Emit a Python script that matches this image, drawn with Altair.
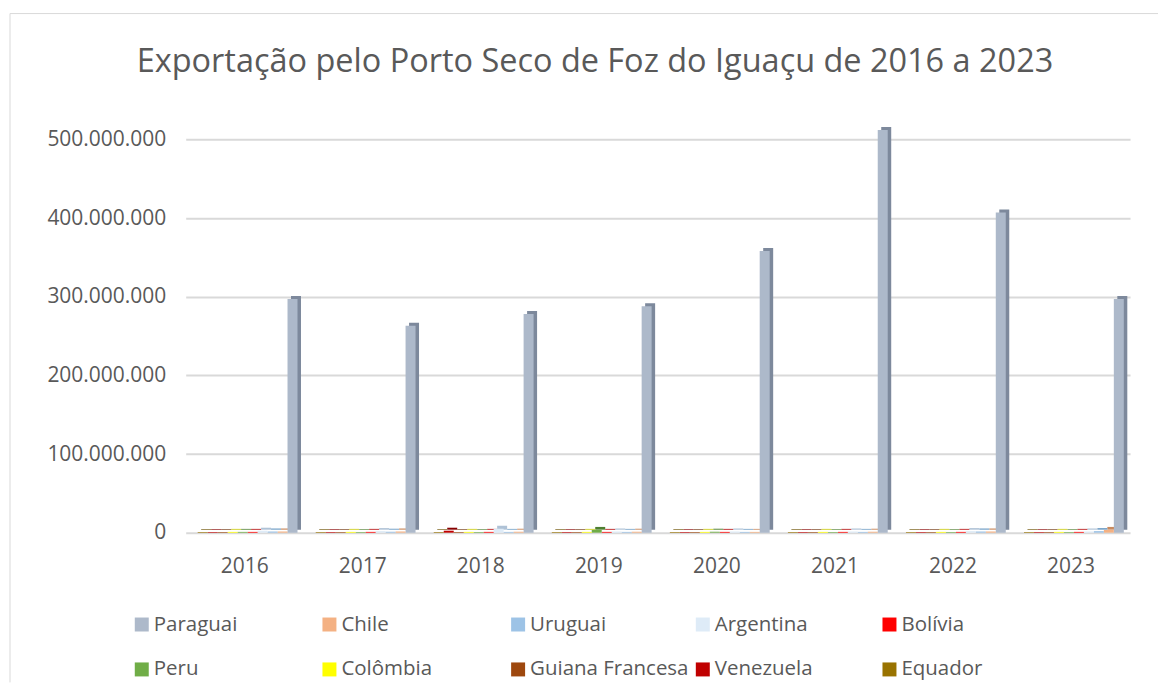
import altair as alt
import pandas as pd

TITLE = "Exportação pelo Porto Seco de Foz do Iguaçu de 2016 a 2023"
YEARS = ["2016", "2017", "2018", "2019", "2020", "2021", "2022", "2023"]
COUNTRIES = ["Paraguai", "Chile", "Uruguai", "Argentina", "Bolívia",
             "Peru", "Colômbia", "Guiana Francesa", "Venezuela", "Equador"]

PARAGUAI = [297e6, 263e6, 278e6, 288e6, 358e6, 512e6, 407e6, 297e6]
CHILE = [1.5e6, 1.5e6, 1.2e6, 1.2e6, 1.0e6, 1.2e6, 1.5e6, 3.5e6]
URUGUAI = [1.5e6, 1.2e6, 1.0e6, 1.0e6, 1.0e6, 1.0e6, 1.5e6, 2.0e6]
ARGENTINA = [2.5e6, 2.0e6, 5.0e6, 1.5e6, 1.5e6, 1.5e6, 2.0e6, 1.5e6]
BOLIVIA = [1.0e6, 1.0e6, 1.0e6, 1.0e6, 1.0e6, 1.0e6, 1.0e6, 1.0e6]
PERU = [1.0e6, 0.8e6, 0.8e6, 3.5e6, 1.2e6, 0.8e6, 0.8e6, 0.8e6]
COLOMBIA = [1.0e6, 1.0e6, 1.0e6, 1.0e6, 1.0e6, 1.0e6, 1.0e6, 1.0e6]
GUIANA = [0.8e6, 0.8e6, 0.8e6, 0.8e6, 0.8e6, 0.8e6, 0.8e6, 0.8e6]
VENEZUELA = [0.8e6, 0.8e6, 2.5e6, 0.8e6, 0.8e6, 0.8e6, 0.8e6, 0.8e6]
EQUADOR = [0.8e6, 0.8e6, 0.8e6, 0.8e6, 0.8e6, 0.8e6, 0.8e6, 0.8e6]
SERIES = [PARAGUAI, CHILE, URUGUAI, ARGENTINA, BOLIVIA, PERU, COLOMBIA,
          GUIANA, VENEZUELA, EQUADOR]
Y_TICKS = [0, 100e6, 200e6, 300e6, 400e6, 500e6]

# styles
COLORS = ["#ADB9CA", "#F4B183", "#9DC3E6", "#DEEBF7", "#FF0000",
          "#70AD47", "#FFFF00", "#9E480E", "#C00000", "#997300"]
SIDE_COLORS = ["#7D899C", "#C98A5E", "#6E9CC4", "#AFC2D6", "#B00000",
               "#4E7F30", "#C8C800", "#6E3209", "#860000", "#6B5000"]
TXT = "#595959"
FONT = "Open Sans"

rows = []
for c, side, vals in zip(COUNTRIES, SIDE_COLORS, SERIES):
    for y, v in zip(YEARS, vals):
        rows.append({"year": y, "country": c, "value": v, "side": side})
df = pd.DataFrame(rows)

legend_df = pd.DataFrame({
    "country": COUNTRIES,
    "col": [i % 5 for i in range(len(COUNTRIES))],
    "row": [i // 5 for i in range(len(COUNTRIES))],
})

GROUP_ORDER = COUNTRIES[::-1]
color_scale = alt.Scale(domain=COUNTRIES, range=COLORS)
x_scale = alt.Scale(paddingInner=0, paddingOuter=0)
y_scale = alt.Scale(domain=[0, 500e6], nice=False)

side = alt.Chart(df).mark_bar(yOffset=-3).encode(
    x=alt.X("year:N", scale=x_scale, axis=None),
    xOffset=alt.XOffset("country:N", sort=GROUP_ORDER,
                        scale=alt.Scale(range=[15.5, 115.5], paddingInner=0, paddingOuter=0)),
    y=alt.Y("value:Q", scale=y_scale, axis=None),
    color=alt.Color("side:N", scale=None, legend=None),
)

front = alt.Chart(df).mark_bar().encode(
    x=alt.X("year:N", scale=x_scale,
            axis=alt.Axis(title=None, labelAngle=0, labelFontSize=21, labelColor=TXT,
                          labelFont=FONT, domain=False, ticks=False, labelPadding=23)),
    xOffset=alt.XOffset("country:N", sort=GROUP_ORDER,
                        scale=alt.Scale(range=[12, 112], paddingInner=0, paddingOuter=0)),
    y=alt.Y("value:Q", scale=y_scale,
            axis=alt.Axis(title=None, values=Y_TICKS,
                          labelExpr="replace(format(datum.value, ',.0f'), regexp(',', 'g'), '.')",
                          grid=True, gridColor="#D9D9D9", gridWidth=2, domain=False,
                          ticks=False, labelPadding=20, labelFontSize=21,
                          labelColor=TXT, labelFont=FONT)),
    color=alt.Color("country:N", scale=color_scale, legend=None),
)

one = alt.Data(values=[{}])
border_left = alt.Chart(one).mark_rule(color="#D9D9D9", strokeWidth=1).encode(
    x=alt.value(-176), y=alt.value(-126), y2=alt.value(544))
border_top = alt.Chart(one).mark_rule(color="#D9D9D9", strokeWidth=1).encode(
    x=alt.value(-176), x2=alt.value(974), y=alt.value(-126))
title = alt.Chart(one).mark_text(text=TITLE, fontSize=32.5, color=TXT, font=FONT,
                                 align="center", baseline="middle").encode(
    x=alt.value(410), y=alt.value(-77))

lx = alt.X("col:Q", scale=alt.Scale(domain=[0, 1, 2, 3, 4], range=[-44, 144, 333, 518, 705],
                                    zero=False, nice=False), axis=None)
ly = alt.Y("row:Q", scale=alt.Scale(domain=[0, 1], range=[486, 531], zero=False, nice=False),
           axis=None)
leg_sq = alt.Chart(legend_df).mark_square(size=196, opacity=1).encode(
    x=lx, y=ly, color=alt.Color("country:N", scale=color_scale, legend=None))
leg_tx = alt.Chart(legend_df).mark_text(align="left", baseline="middle", dx=12, fontSize=20.5,
                                        color=TXT, font=FONT).encode(
    x=lx, y=ly, text="country:N")

chart = alt.layer(border_left, border_top, title, side, front, leg_sq, leg_tx).resolve_scale(
    x="independent", y="independent", xOffset="independent"
).properties(
    width=946, height=394,
    padding={"left": 1, "top": 4, "right": 0, "bottom": 0},
).configure(background="white").configure_view(stroke=None)

chart.save("out.html", embed_options={"renderer": "svg", "actions": False})
